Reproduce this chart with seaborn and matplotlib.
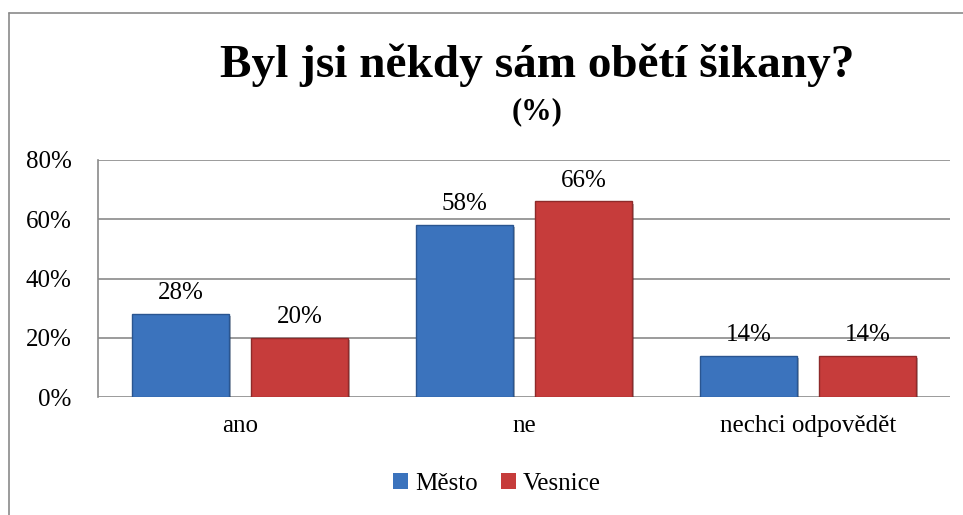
import matplotlib
matplotlib.use("Agg")
import matplotlib.pyplot as plt
import matplotlib.patheffects as pe
import seaborn as sns
import pandas as pd

categories = ["ano", "ne", "nechci odpovědět"]
series_names = ["Město", "Vesnice"]
mesto = [28, 58, 14]
vesnice = [20, 66, 14]
y_ticks = [0, 20, 40, 60, 80]
colors = ["#3b73bd", "#c63c3b"]
edge_colors = ["#2a5590", "#8e2a2a"]

rows = []
for c, m, v in zip(categories, mesto, vesnice):
    rows.append({"cat": c, "series": series_names[0], "val": m})
    rows.append({"cat": c, "series": series_names[1], "val": v})
df = pd.DataFrame(rows)

sns.set_theme(style="white")
plt.rcParams["font.family"] = ["Liberation Serif", "DejaVu Serif"]
plt.rcParams["text.color"] = "black"
plt.rcParams["xtick.color"] = "black"
plt.rcParams["ytick.color"] = "black"

FS = 18

fig = plt.figure(figsize=(9.63, 5.15), dpi=100)
ax = fig.add_axes([98 / 963, 1 - 397 / 515, (950 - 98) / 963, (397 - 160) / 515])

sns.barplot(data=df, x="cat", y="val", hue="series", order=categories,
            hue_order=series_names, palette=colors, width=0.84, gap=0.186,
            ax=ax, legend=True, saturation=1, edgecolor="none")

for cont, ec in zip(ax.containers, edge_colors):
    for patch in cont:
        patch.set_edgecolor(ec)
        patch.set_linewidth(1.0)
        patch.set_path_effects([pe.SimplePatchShadow(offset=(1.5, -1.5), alpha=0.35),
                                pe.Normal()])

for cont in ax.containers:
    ax.bar_label(cont, labels=[f"{int(round(v))}%" for v in cont.datavalues],
                 padding=7, fontsize=FS, color="black")

ax.set_ylim(0, 80)
ax.set_yticks(y_ticks)
ax.set_yticklabels([f"{t}%" for t in y_ticks], fontsize=FS)
ax.set_xlim(-0.5, 2.5)
ax.tick_params(axis="x", labelsize=FS, pad=13, length=0)
ax.tick_params(axis="y", pad=19, length=0)
ax.set_xlabel("")
ax.set_ylabel("")
ax.yaxis.grid(True, color="#8a8a8a", linewidth=1.2)
ax.set_axisbelow(True)
for s in ["top", "right", "bottom"]:
    ax.spines[s].set_visible(False)
ax.spines["left"].set_color("#8a8a8a")
ax.spines["left"].set_linewidth(1.2)

leg = ax.legend(loc="center", bbox_to_anchor=(497 / 963, 1 - 484 / 515),
                bbox_transform=fig.transFigure, ncol=2, frameon=False,
                fontsize=FS, handlelength=0.6, handleheight=0.6,
                handletextpad=0.3, columnspacing=0.9)

fig.text(537 / 963, 1 - 77 / 515, "Byl jsi někdy sám obětí šikany?",
         ha="center", va="baseline", fontsize=34, fontweight="bold")
fig.text(537 / 963, 1 - 119 / 515, "(%)", ha="center", va="baseline",
         fontsize=22, fontweight="bold")

# chart border (top and left visible)
fig.add_artist(plt.Line2D([9 / 963, 9 / 963], [0, 1 - 13 / 515],
                          transform=fig.transFigure, color="#8a8a8a", linewidth=1.2))
fig.add_artist(plt.Line2D([9 / 963, 1], [1 - 13 / 515, 1 - 13 / 515],
                          transform=fig.transFigure, color="#8a8a8a", linewidth=1.2))

fig.savefig("out.png", dpi=100)
